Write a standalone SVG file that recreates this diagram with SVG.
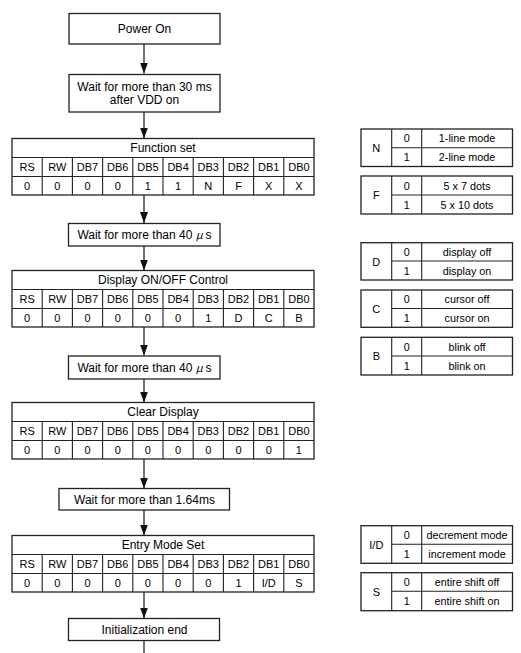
<svg xmlns="http://www.w3.org/2000/svg" width="521" height="653" viewBox="0 0 521 653">
<style>
  .box{fill:#fff;stroke:#222;stroke-width:1.3}
  .ln{stroke:#222;stroke-width:1.1;fill:none}
  .t{font-family:"Liberation Sans",Arial,sans-serif;font-size:12px;fill:#000;text-anchor:middle}
  .c{font-family:"Liberation Sans",Arial,sans-serif;font-size:11px;fill:#000;text-anchor:middle}
  .l{font-family:"Liberation Sans",Arial,sans-serif;font-size:10.8px;fill:#000;text-anchor:middle}
  .mu{font-family:"Noto Sans CJK JP",sans-serif;font-style:italic;font-size:11px}
  .conn{stroke:#222;stroke-width:1.3;fill:none}
</style>
<defs>
  <marker id="ah" viewBox="0 0 11 8" refX="11" refY="4" markerWidth="11" markerHeight="8" orient="auto" markerUnits="userSpaceOnUse">
    <path d="M0,0 L11,4 L0,8 z" fill="#111"/>
  </marker>
</defs>

<g id="connectors">
  <line class="conn" x1="144" y1="44" x2="144" y2="73.5" marker-end="url(#ah)"/>
  <line class="conn" x1="144" y1="112" x2="144" y2="138.5" marker-end="url(#ah)"/>
  <line class="conn" x1="144" y1="195" x2="144" y2="223" marker-end="url(#ah)"/>
  <line class="conn" x1="144" y1="246" x2="144" y2="270.5" marker-end="url(#ah)"/>
  <line class="conn" x1="144" y1="327" x2="144" y2="355.5" marker-end="url(#ah)"/>
  <line class="conn" x1="144" y1="379" x2="144" y2="402.5" marker-end="url(#ah)"/>
  <line class="conn" x1="144" y1="459" x2="144" y2="488.5" marker-end="url(#ah)"/>
  <line class="conn" x1="144" y1="510" x2="144" y2="535.5" marker-end="url(#ah)"/>
  <line class="conn" x1="144" y1="592" x2="144" y2="618.5" marker-end="url(#ah)"/>
  <line class="conn" x1="144" y1="640.5" x2="144" y2="653"/>
</g>

<g id="power-on">
  <rect class="box" x="69" y="13.5" width="151" height="30.5"/>
  <text class="t" x="144.5" y="33">Power On</text>
</g>

<g id="wait-30ms">
  <rect class="box" x="69" y="74.5" width="151" height="37.5"/>
  <text class="t" x="144.5" y="90.5">Wait for more than 30 ms</text>
  <text class="t" x="144.5" y="104">after VDD on</text>
</g>

<g id="function-set">
  <rect class="box" x="12" y="138.5" width="302" height="56.5"/>
  <path class="ln" d="M12,157.5H314M12,176.5H314M42.2,157.5V195M72.4,157.5V195M102.6,157.5V195M132.8,157.5V195M163,157.5V195M193.2,157.5V195M223.4,157.5V195M253.6,157.5V195M283.8,157.5V195"/>
  <text class="t" x="163" y="152">Function set</text>
  <g class="c">
    <text x="27.1" y="170.5">RS</text><text x="57.3" y="170.5">RW</text><text x="87.5" y="170.5">DB7</text><text x="117.7" y="170.5">DB6</text><text x="147.9" y="170.5">DB5</text><text x="178.1" y="170.5">DB4</text><text x="208.3" y="170.5">DB3</text><text x="238.5" y="170.5">DB2</text><text x="268.7" y="170.5">DB1</text><text x="298.9" y="170.5">DB0</text>
    <text x="27.1" y="189.5">0</text><text x="57.3" y="189.5">0</text><text x="87.5" y="189.5">0</text><text x="117.7" y="189.5">0</text><text x="147.9" y="189.5">1</text><text x="178.1" y="189.5">1</text><text x="208.3" y="189.5">N</text><text x="238.5" y="189.5">F</text><text x="268.7" y="189.5">X</text><text x="298.9" y="189.5">X</text>
  </g>
</g>

<g id="wait-40us-1">
  <rect class="box" x="68.5" y="223.5" width="151.5" height="22.5"/>
  <text class="t" x="144.5" y="239">Wait for more than 40 <tspan class="mu">μ</tspan><tspan dx="3">s</tspan></text>
</g>

<g id="display-control">
  <rect class="box" x="12" y="270.5" width="302" height="56.5"/>
  <path class="ln" d="M12,289.5H314M12,308.5H314M42.2,289.5V327M72.4,289.5V327M102.6,289.5V327M132.8,289.5V327M163,289.5V327M193.2,289.5V327M223.4,289.5V327M253.6,289.5V327M283.8,289.5V327"/>
  <text class="t" x="163" y="284">Display ON/OFF Control</text>
  <g class="c">
    <text x="27.1" y="302.5">RS</text><text x="57.3" y="302.5">RW</text><text x="87.5" y="302.5">DB7</text><text x="117.7" y="302.5">DB6</text><text x="147.9" y="302.5">DB5</text><text x="178.1" y="302.5">DB4</text><text x="208.3" y="302.5">DB3</text><text x="238.5" y="302.5">DB2</text><text x="268.7" y="302.5">DB1</text><text x="298.9" y="302.5">DB0</text>
    <text x="27.1" y="321.5">0</text><text x="57.3" y="321.5">0</text><text x="87.5" y="321.5">0</text><text x="117.7" y="321.5">0</text><text x="147.9" y="321.5">0</text><text x="178.1" y="321.5">0</text><text x="208.3" y="321.5">1</text><text x="238.5" y="321.5">D</text><text x="268.7" y="321.5">C</text><text x="298.9" y="321.5">B</text>
  </g>
</g>

<g id="wait-40us-2">
  <rect class="box" x="68.5" y="356" width="151.5" height="23"/>
  <text class="t" x="144.5" y="371.5">Wait for more than 40 <tspan class="mu">μ</tspan><tspan dx="3">s</tspan></text>
</g>

<g id="clear-display">
  <rect class="box" x="12" y="402.5" width="302" height="56.5"/>
  <path class="ln" d="M12,421.5H314M12,440.5H314M42.2,421.5V459M72.4,421.5V459M102.6,421.5V459M132.8,421.5V459M163,421.5V459M193.2,421.5V459M223.4,421.5V459M253.6,421.5V459M283.8,421.5V459"/>
  <text class="t" x="163" y="416">Clear Display</text>
  <g class="c">
    <text x="27.1" y="434.5">RS</text><text x="57.3" y="434.5">RW</text><text x="87.5" y="434.5">DB7</text><text x="117.7" y="434.5">DB6</text><text x="147.9" y="434.5">DB5</text><text x="178.1" y="434.5">DB4</text><text x="208.3" y="434.5">DB3</text><text x="238.5" y="434.5">DB2</text><text x="268.7" y="434.5">DB1</text><text x="298.9" y="434.5">DB0</text>
    <text x="27.1" y="453.5">0</text><text x="57.3" y="453.5">0</text><text x="87.5" y="453.5">0</text><text x="117.7" y="453.5">0</text><text x="147.9" y="453.5">0</text><text x="178.1" y="453.5">0</text><text x="208.3" y="453.5">0</text><text x="238.5" y="453.5">0</text><text x="268.7" y="453.5">0</text><text x="298.9" y="453.5">1</text>
  </g>
</g>

<g id="wait-164ms">
  <rect class="box" x="59" y="488.5" width="170.5" height="21.5"/>
  <text class="t" x="144.5" y="503.5">Wait for more than 1.64ms</text>
</g>

<g id="entry-mode-set">
  <rect class="box" x="12" y="535.5" width="302" height="56.5"/>
  <path class="ln" d="M12,554.5H314M12,573.5H314M42.2,554.5V592M72.4,554.5V592M102.6,554.5V592M132.8,554.5V592M163,554.5V592M193.2,554.5V592M223.4,554.5V592M253.6,554.5V592M283.8,554.5V592"/>
  <text class="t" x="163" y="549">Entry Mode Set</text>
  <g class="c">
    <text x="27.1" y="567.5">RS</text><text x="57.3" y="567.5">RW</text><text x="87.5" y="567.5">DB7</text><text x="117.7" y="567.5">DB6</text><text x="147.9" y="567.5">DB5</text><text x="178.1" y="567.5">DB4</text><text x="208.3" y="567.5">DB3</text><text x="238.5" y="567.5">DB2</text><text x="268.7" y="567.5">DB1</text><text x="298.9" y="567.5">DB0</text>
    <text x="27.1" y="586.5">0</text><text x="57.3" y="586.5">0</text><text x="87.5" y="586.5">0</text><text x="117.7" y="586.5">0</text><text x="147.9" y="586.5">0</text><text x="178.1" y="586.5">0</text><text x="208.3" y="586.5">0</text><text x="238.5" y="586.5">1</text><text x="268.7" y="586.5">I/D</text><text x="298.9" y="586.5">S</text>
  </g>
</g>

<g id="init-end">
  <rect class="box" x="68.5" y="618.5" width="151" height="22"/>
  <text class="t" x="144.5" y="634">Initialization end</text>
</g>

<g id="legend-N">
  <rect class="box" x="361" y="129" width="151.5" height="37.5"/>
  <path class="ln" d="M391.7,129V166.5M421.7,129V166.5M391.7,147.7H512.5"/>
  <text class="c" x="376.3" y="151.5">N</text>
  <text class="l" x="406.7" y="142">0</text><text class="l" x="467" y="142">1-line mode</text>
  <text class="l" x="406.7" y="161">1</text><text class="l" x="467" y="161">2-line mode</text>
</g>

<g id="legend-F">
  <rect class="box" x="361" y="176" width="151.5" height="38"/>
  <path class="ln" d="M391.7,176V214M421.7,176V214M391.7,195H512.5"/>
  <text class="c" x="376.3" y="199">F</text>
  <text class="l" x="406.7" y="189.5">0</text><text class="l" x="467" y="189.5">5 x 7 dots</text>
  <text class="l" x="406.7" y="208.5">1</text><text class="l" x="467" y="208.5">5 x 10 dots</text>
</g>

<g id="legend-D">
  <rect class="box" x="361" y="242.7" width="151.5" height="37.3"/>
  <path class="ln" d="M391.7,242.7V280M421.7,242.7V280M391.7,261H512.5"/>
  <text class="c" x="376.3" y="265.5">D</text>
  <text class="l" x="406.7" y="255.5">0</text><text class="l" x="467" y="255.5">display off</text>
  <text class="l" x="406.7" y="274.5">1</text><text class="l" x="467" y="274.5">display on</text>
</g>

<g id="legend-C">
  <rect class="box" x="361" y="290" width="151.5" height="37.3"/>
  <path class="ln" d="M391.7,290V327.3M421.7,290V327.3M391.7,308.5H512.5"/>
  <text class="c" x="376.3" y="312.7">C</text>
  <text class="l" x="406.7" y="303">0</text><text class="l" x="467" y="303">cursor off</text>
  <text class="l" x="406.7" y="322">1</text><text class="l" x="467" y="322">cursor on</text>
</g>

<g id="legend-B">
  <rect class="box" x="361" y="337.3" width="151.5" height="37.7"/>
  <path class="ln" d="M391.7,337.3V375M421.7,337.3V375M391.7,356H512.5"/>
  <text class="c" x="376.3" y="360">B</text>
  <text class="l" x="406.7" y="350.5">0</text><text class="l" x="467" y="350.5">blink off</text>
  <text class="l" x="406.7" y="369.5">1</text><text class="l" x="467" y="369.5">blink on</text>
</g>

<g id="legend-ID">
  <rect class="box" x="361" y="525.7" width="151.5" height="37.6"/>
  <path class="ln" d="M391.7,525.7V563.3M421.7,525.7V563.3M391.7,544.3H512.5"/>
  <text class="c" x="376.3" y="548.5">I/D</text>
  <text class="l" x="406.7" y="538.8">0</text><text class="l" x="467" y="538.8">decrement mode</text>
  <text class="l" x="406.7" y="557.8">1</text><text class="l" x="467" y="557.8">increment mode</text>
</g>

<g id="legend-S">
  <rect class="box" x="361" y="572.7" width="151.5" height="38"/>
  <path class="ln" d="M391.7,572.7V610.7M421.7,572.7V610.7M391.7,591.3H512.5"/>
  <text class="c" x="376.3" y="595.7">S</text>
  <text class="l" x="406.7" y="586">0</text><text class="l" x="467" y="586">entire shift off</text>
  <text class="l" x="406.7" y="605">1</text><text class="l" x="467" y="605">entire shift on</text>
</g>
</svg>
